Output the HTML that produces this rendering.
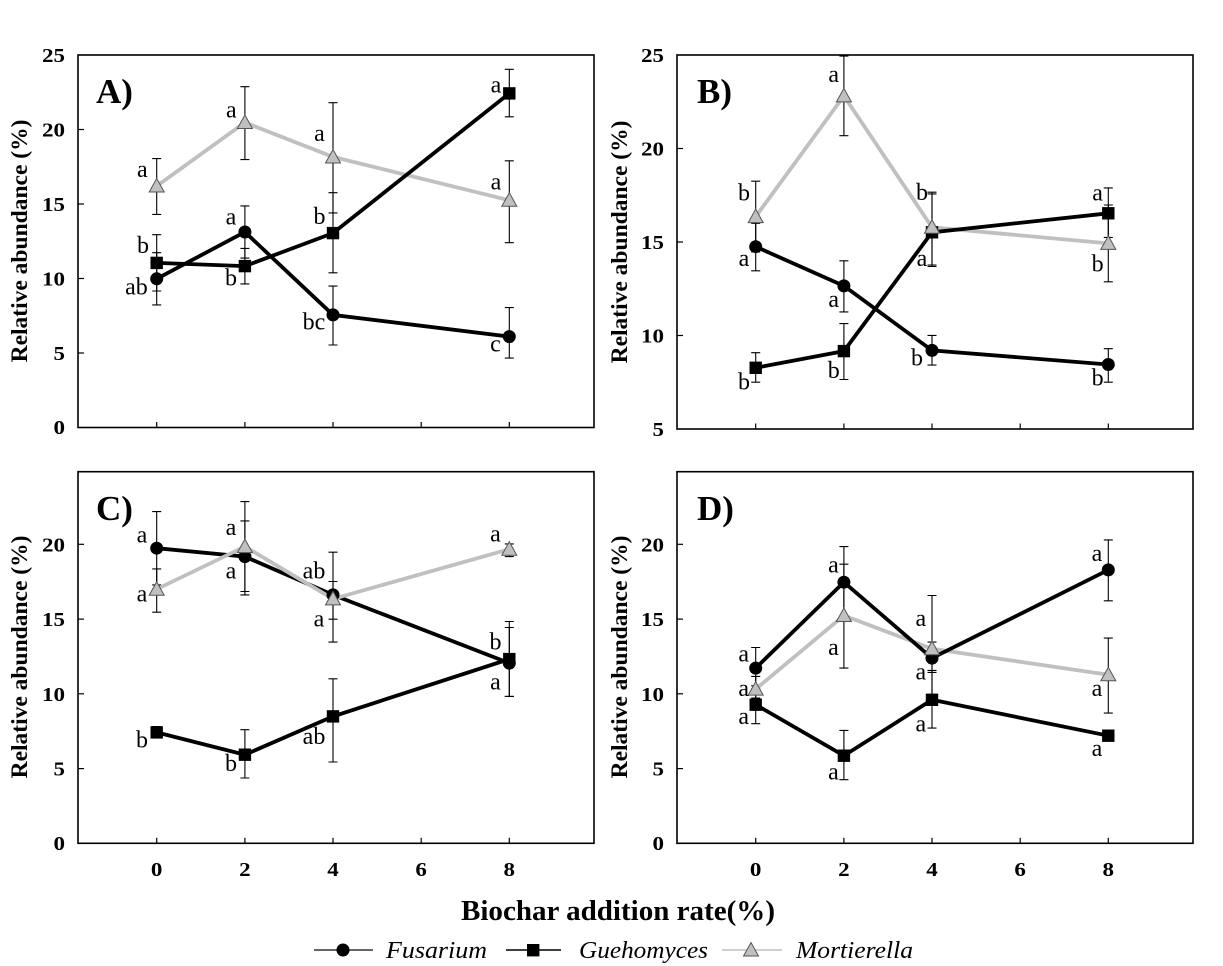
<!DOCTYPE html>
<html>
<head>
<meta charset="utf-8">
<style>
  html,body{margin:0;padding:0;background:#fff;}
  svg{display:block;}
  .tl{font-family:"Liberation Serif",serif;font-weight:bold;font-size:20px;fill:#000;}
  .yt{font-family:"Liberation Serif",serif;font-weight:bold;font-size:23.5px;fill:#000;}
  .pl{font-family:"Liberation Serif",serif;font-weight:bold;font-size:35px;fill:#000;}
  .lt{font-family:"Liberation Serif",serif;font-size:24px;fill:#000;}
  .xt{font-family:"Liberation Serif",serif;font-weight:bold;font-size:28px;fill:#000;}
  .lg{font-family:"Liberation Serif",serif;font-style:italic;font-size:24px;fill:#000;}
</style>
</head>
<body>
<svg width="1223" height="966" viewBox="0 0 1223 966" xmlns="http://www.w3.org/2000/svg">
<defs>
  <g id="tri"><polygon points="0,-8.5 7.5,5 -7.5,5" fill="#c0c0c0" stroke="#555" stroke-width="1"/></g>
</defs>

<!-- ================= PANEL A ================= -->
<g>
  <rect x="78" y="55" width="516" height="372.5" fill="none" stroke="#000" stroke-width="1.6"/>
  <g stroke="#000" stroke-width="1.2">
    <line x1="78" y1="353" x2="84" y2="353"/><line x1="78" y1="278.5" x2="84" y2="278.5"/>
    <line x1="78" y1="204" x2="84" y2="204"/><line x1="78" y1="129.5" x2="84" y2="129.5"/>
    <line x1="156.7" y1="427.5" x2="156.7" y2="422"/><line x1="244.9" y1="427.5" x2="244.9" y2="422"/>
    <line x1="333" y1="427.5" x2="333" y2="422"/><line x1="421.2" y1="427.5" x2="421.2" y2="422"/>
    <line x1="509.3" y1="427.5" x2="509.3" y2="422"/>
  </g>
  <g class="tl" text-anchor="end" lengthAdjust="spacingAndGlyphs">
    <text x="65" y="434" textLength="11.5" lengthAdjust="spacingAndGlyphs">0</text>
    <text x="65" y="360" textLength="11.5" lengthAdjust="spacingAndGlyphs">5</text>
    <text x="65" y="285.5" textLength="23" lengthAdjust="spacingAndGlyphs">10</text>
    <text x="65" y="211" textLength="23" lengthAdjust="spacingAndGlyphs">15</text>
    <text x="65" y="136.5" textLength="23" lengthAdjust="spacingAndGlyphs">20</text>
    <text x="65" y="62" textLength="23" lengthAdjust="spacingAndGlyphs">25</text>
  </g>
  <text class="yt" text-anchor="middle" transform="translate(27,241) rotate(-90)">Relative abundance (%)</text>
  <text class="pl" x="96" y="103">A)</text>
  <g stroke="#000" stroke-width="1.1" fill="none">
    <path d="M156.7,214.4V158.6M152.2,214.4h9M152.2,158.6h9"/>
    <path d="M244.9,159.6V86.7M240.4,159.6h9M240.4,86.7h9"/>
    <path d="M333,212.9V102.7M328.5,212.9h9M328.5,102.7h9"/>
    <path d="M509.3,242.7V160.8M504.8,242.7h9M504.8,160.8h9"/>
    <path d="M156.7,304.9V252.7M152.2,304.9h9M152.2,252.7h9"/>
    <path d="M244.9,258.1V205.9M240.4,258.1h9M240.4,205.9h9"/>
    <path d="M333,345V286.1M328.5,345h9M328.5,286.1h9"/>
    <path d="M509.3,358.1V307.6M504.8,358.1h9M504.8,307.6h9"/>
    <path d="M156.7,291V234.7M152.2,291h9M152.2,234.7h9"/>
    <path d="M244.9,283.9V248.4M240.4,283.9h9M240.4,248.4h9"/>
    <path d="M333,272.8V192.7M328.5,272.8h9M328.5,192.7h9"/>
    <path d="M509.3,116.8V69.3M504.8,116.8h9M504.8,69.3h9"/>
  </g>
  <polyline points="156.7,186.1 244.9,122.5 333,156.9 509.3,200.3" fill="none" stroke="#c0c0c0" stroke-width="3.8"/>
  <polyline points="156.7,262.9 244.9,266.1 333,233.1 509.3,93.4" fill="none" stroke="#000" stroke-width="3.8"/>
  <polyline points="156.7,278.8 244.9,232 333,314.9 509.3,336.6" fill="none" stroke="#000" stroke-width="3.8"/>
  <g fill="#000">
    <circle cx="156.7" cy="278.8" r="6.5"/><circle cx="244.9" cy="232" r="6.5"/>
    <circle cx="333" cy="314.9" r="6.5"/><circle cx="509.3" cy="336.6" r="6.5"/>
    <rect x="150.5" y="256.7" width="12.4" height="12.4"/><rect x="238.7" y="259.9" width="12.4" height="12.4"/>
    <rect x="326.8" y="226.9" width="12.4" height="12.4"/><rect x="503.1" y="87.2" width="12.4" height="12.4"/>
  </g>
  <use href="#tri" x="156.7" y="187"/><use href="#tri" x="244.9" y="123.5"/>
  <use href="#tri" x="333" y="158"/><use href="#tri" x="509.3" y="201.3"/>
  <g class="lt" text-anchor="middle">
    <text x="142.3" y="177">a</text><text x="231.3" y="117.5">a</text>
    <text x="319.5" y="141">a</text><text x="496" y="92.5">a</text>
    <text x="496" y="189.7">a</text><text x="143" y="253">b</text>
    <text x="136.4" y="294.6">ab</text><text x="231" y="224.5">a</text>
    <text x="231" y="285.6">b</text><text x="319.5" y="223.8">b</text>
    <text x="314" y="329.7">bc</text><text x="495.5" y="351.4">c</text>
  </g>
</g>

<!-- ================= PANEL B ================= -->
<g>
  <rect x="677" y="55" width="516" height="374" fill="none" stroke="#000" stroke-width="1.6"/>
  <g stroke="#000" stroke-width="1.2">
    <line x1="677" y1="335.5" x2="683" y2="335.5"/><line x1="677" y1="242" x2="683" y2="242"/>
    <line x1="677" y1="148.5" x2="683" y2="148.5"/>
    <line x1="755.7" y1="429" x2="755.7" y2="423.5"/><line x1="843.9" y1="429" x2="843.9" y2="423.5"/>
    <line x1="932" y1="429" x2="932" y2="423.5"/><line x1="1020.2" y1="429" x2="1020.2" y2="423.5"/>
    <line x1="1108.3" y1="429" x2="1108.3" y2="423.5"/>
  </g>
  <g class="tl" text-anchor="end">
    <text x="664" y="436" textLength="11.5" lengthAdjust="spacingAndGlyphs">5</text>
    <text x="664" y="342.5" textLength="23" lengthAdjust="spacingAndGlyphs">10</text>
    <text x="664" y="249" textLength="23" lengthAdjust="spacingAndGlyphs">15</text>
    <text x="664" y="155.5" textLength="23" lengthAdjust="spacingAndGlyphs">20</text>
    <text x="664" y="62" textLength="23" lengthAdjust="spacingAndGlyphs">25</text>
  </g>
  <text class="yt" text-anchor="middle" transform="translate(627,242) rotate(-90)">Relative abundance (%)</text>
  <text class="pl" x="697" y="103">B)</text>
  <g stroke="#000" stroke-width="1.1" fill="none">
    <path d="M755.7,252V181.2M751.2,252h9M751.2,181.2h9"/>
    <path d="M843.9,135.7V56.1M839.4,135.7h9M839.4,56.1h9"/>
    <path d="M932,266.5V192.2M927.5,266.5h9M927.5,192.2h9"/>
    <path d="M1108.3,281.8V205M1103.8,281.8h9M1103.8,205h9"/>
    <path d="M755.7,270.8V223.3M751.2,270.8h9M751.2,223.3h9"/>
    <path d="M843.9,311.9V260.8M839.4,311.9h9M839.4,260.8h9"/>
    <path d="M932,365.1V335.4M927.5,365.1h9M927.5,335.4h9"/>
    <path d="M1108.3,382.2V348.7M1103.8,382.2h9M1103.8,348.7h9"/>
    <path d="M755.7,382.2V352.7M751.2,382.2h9M751.2,352.7h9"/>
    <path d="M843.9,379.5V323.6M839.4,379.5h9M839.4,323.6h9"/>
    <path d="M932,265.1V193.9M927.5,265.1h9M927.5,193.9h9"/>
    <path d="M1108.3,237.4V187.9M1103.8,237.4h9M1103.8,187.9h9"/>
  </g>
  <polyline points="755.7,216.6 843.9,95.9 932,227.3 1108.3,243.4" fill="none" stroke="#c0c0c0" stroke-width="3.8"/>
  <polyline points="755.7,367.8 843.9,351.1 932,232.3 1108.3,213.3" fill="none" stroke="#000" stroke-width="3.8"/>
  <polyline points="755.7,246.7 843.9,285.9 932,350.4 1108.3,364.5" fill="none" stroke="#000" stroke-width="3.8"/>
  <g fill="#000">
    <circle cx="755.7" cy="246.7" r="6.5"/><circle cx="843.9" cy="285.9" r="6.5"/>
    <circle cx="932" cy="350.4" r="6.5"/><circle cx="1108.3" cy="364.5" r="6.5"/>
    <rect x="749.5" y="361.6" width="12.4" height="12.4"/><rect x="837.7" y="344.9" width="12.4" height="12.4"/>
    <rect x="925.8" y="226.1" width="12.4" height="12.4"/><rect x="1102.1" y="207.1" width="12.4" height="12.4"/>
  </g>
  <use href="#tri" x="755.7" y="217.6"/><use href="#tri" x="843.9" y="96.9"/>
  <use href="#tri" x="932" y="228.3"/><use href="#tri" x="1108.3" y="244.4"/>
  <g class="lt" text-anchor="middle">
    <text x="833.7" y="81.8">a</text><text x="744" y="200.6">b</text>
    <text x="744" y="265.8">a</text><text x="744" y="389.5">b</text>
    <text x="833.7" y="307">a</text><text x="833.7" y="377.8">b</text>
    <text x="922" y="199.9">b</text><text x="922" y="265.8">a</text>
    <text x="917" y="365.5">b</text><text x="1097.6" y="200.6">a</text>
    <text x="1097.6" y="271.5">b</text><text x="1097.6" y="385.5">b</text>
  </g>
</g>

<!-- ================= PANEL C ================= -->
<g>
  <rect x="78" y="471.7" width="516" height="371.6" fill="none" stroke="#000" stroke-width="1.6"/>
  <g stroke="#000" stroke-width="1.2">
    <line x1="78" y1="768.6" x2="84" y2="768.6"/><line x1="78" y1="693.8" x2="84" y2="693.8"/>
    <line x1="78" y1="619.1" x2="84" y2="619.1"/><line x1="78" y1="544.3" x2="84" y2="544.3"/>
    <line x1="156.7" y1="843.3" x2="156.7" y2="837.8"/><line x1="244.9" y1="843.3" x2="244.9" y2="837.8"/>
    <line x1="333" y1="843.3" x2="333" y2="837.8"/><line x1="421.2" y1="843.3" x2="421.2" y2="837.8"/>
    <line x1="509.3" y1="843.3" x2="509.3" y2="837.8"/>
  </g>
  <g class="tl" text-anchor="end">
    <text x="65" y="850" textLength="11.5" lengthAdjust="spacingAndGlyphs">0</text>
    <text x="65" y="775.5" textLength="11.5" lengthAdjust="spacingAndGlyphs">5</text>
    <text x="65" y="700.8" textLength="23" lengthAdjust="spacingAndGlyphs">10</text>
    <text x="65" y="626" textLength="23" lengthAdjust="spacingAndGlyphs">15</text>
    <text x="65" y="551.3" textLength="23" lengthAdjust="spacingAndGlyphs">20</text>
  </g>
  <g class="tl" text-anchor="middle">
    <text x="156.7" y="876" textLength="11.5" lengthAdjust="spacingAndGlyphs">0</text>
    <text x="244.9" y="876" textLength="11.5" lengthAdjust="spacingAndGlyphs">2</text>
    <text x="333" y="876" textLength="11.5" lengthAdjust="spacingAndGlyphs">4</text>
    <text x="421.2" y="876" textLength="11.5" lengthAdjust="spacingAndGlyphs">6</text>
    <text x="509.3" y="876" textLength="11.5" lengthAdjust="spacingAndGlyphs">8</text>
  </g>
  <text class="yt" text-anchor="middle" transform="translate(27,657) rotate(-90)">Relative abundance (%)</text>
  <text class="pl" x="96" y="520">C)</text>
  <g stroke="#000" stroke-width="1.1" fill="none">
    <path d="M156.7,612.2V568.9M152.2,612.2h9M152.2,568.9h9"/>
    <path d="M244.9,591.5V501.6M240.4,591.5h9M240.4,501.6h9"/>
    <path d="M333,642.1V552.2M328.5,642.1h9M328.5,552.2h9"/>
    <path d="M509.3,556.6V543.9M504.8,556.6h9M504.8,543.9h9"/>
    <path d="M156.7,584.9V511.6M152.2,584.9h9M152.2,511.6h9"/>
    <path d="M244.9,594.9V520.9M240.4,594.9h9M240.4,520.9h9"/>
    <path d="M333,619.2V581.5M328.5,619.2h9M328.5,581.5h9"/>
    <path d="M509.3,696.4V627.5M504.8,696.4h9M504.8,627.5h9"/>
    <path d="M156.7,738V726.5M152.2,738h9M152.2,726.5h9"/>
    <path d="M244.9,778V729.7M240.4,778h9M240.4,729.7h9"/>
    <path d="M333,762V678.8M328.5,762h9M328.5,678.8h9"/>
    <path d="M509.3,696.4V621.5M504.8,696.4h9M504.8,621.5h9"/>
  </g>
  <polyline points="156.7,732.4 244.9,754.7 333,716.4 509.3,659.1" fill="none" stroke="#000" stroke-width="3.8"/>
  <polyline points="156.7,548.2 244.9,556.6 333,594.9 509.3,663.1" fill="none" stroke="#000" stroke-width="3.8"/>
  <polyline points="156.7,589.2 244.9,546.6 333,598.9 509.3,549.2" fill="none" stroke="#c0c0c0" stroke-width="3.8"/>
  <g fill="#000">
    <circle cx="156.7" cy="548.2" r="6.5"/><circle cx="244.9" cy="556.6" r="6.5"/>
    <circle cx="333" cy="594.9" r="6.5"/><circle cx="509.3" cy="663.1" r="6.5"/>
    <rect x="150.5" y="726.2" width="12.4" height="12.4"/><rect x="238.7" y="748.5" width="12.4" height="12.4"/>
    <rect x="326.8" y="710.2" width="12.4" height="12.4"/><rect x="503.1" y="652.9" width="12.4" height="12.4"/>
  </g>
  <use href="#tri" x="156.7" y="590.2"/><use href="#tri" x="244.9" y="547.6"/>
  <use href="#tri" x="333" y="599.9"/><use href="#tri" x="509.3" y="550.2"/>
  <g class="lt" text-anchor="middle">
    <text x="142" y="542.7">a</text><text x="142" y="601.7">a</text>
    <text x="142" y="747.7">b</text><text x="231" y="535">a</text>
    <text x="231" y="578.3">a</text><text x="231" y="771">b</text>
    <text x="314" y="578.3">ab</text><text x="319" y="626.7">a</text>
    <text x="314" y="744">ab</text><text x="495.5" y="541.7">a</text>
    <text x="495.5" y="649.3">b</text><text x="495.5" y="689.3">a</text>
  </g>
</g>

<!-- ================= PANEL D ================= -->
<g>
  <rect x="677" y="471.7" width="516" height="371.6" fill="none" stroke="#000" stroke-width="1.6"/>
  <g stroke="#000" stroke-width="1.2">
    <line x1="677" y1="768.6" x2="683" y2="768.6"/><line x1="677" y1="693.8" x2="683" y2="693.8"/>
    <line x1="677" y1="619.1" x2="683" y2="619.1"/><line x1="677" y1="544.3" x2="683" y2="544.3"/>
    <line x1="755.7" y1="843.3" x2="755.7" y2="837.8"/><line x1="843.9" y1="843.3" x2="843.9" y2="837.8"/>
    <line x1="932" y1="843.3" x2="932" y2="837.8"/><line x1="1020.2" y1="843.3" x2="1020.2" y2="837.8"/>
    <line x1="1108.3" y1="843.3" x2="1108.3" y2="837.8"/>
  </g>
  <g class="tl" text-anchor="end">
    <text x="664" y="850" textLength="11.5" lengthAdjust="spacingAndGlyphs">0</text>
    <text x="664" y="775.5" textLength="11.5" lengthAdjust="spacingAndGlyphs">5</text>
    <text x="664" y="700.8" textLength="23" lengthAdjust="spacingAndGlyphs">10</text>
    <text x="664" y="626" textLength="23" lengthAdjust="spacingAndGlyphs">15</text>
    <text x="664" y="551.3" textLength="23" lengthAdjust="spacingAndGlyphs">20</text>
  </g>
  <g class="tl" text-anchor="middle">
    <text x="755.7" y="876" textLength="11.5" lengthAdjust="spacingAndGlyphs">0</text>
    <text x="843.9" y="876" textLength="11.5" lengthAdjust="spacingAndGlyphs">2</text>
    <text x="932" y="876" textLength="11.5" lengthAdjust="spacingAndGlyphs">4</text>
    <text x="1020.2" y="876" textLength="11.5" lengthAdjust="spacingAndGlyphs">6</text>
    <text x="1108.3" y="876" textLength="11.5" lengthAdjust="spacingAndGlyphs">8</text>
  </g>
  <text class="yt" text-anchor="middle" transform="translate(627,657) rotate(-90)">Relative abundance (%)</text>
  <text class="pl" x="697" y="520">D)</text>
  <g stroke="#000" stroke-width="1.1" fill="none">
    <path d="M755.7,698.1V676.4M751.2,698.1h9M751.2,676.4h9"/>
    <path d="M843.9,668.1V564.2M839.4,668.1h9M839.4,564.2h9"/>
    <path d="M932,702.1V595.5M927.5,702.1h9M927.5,595.5h9"/>
    <path d="M1108.3,713.1V638.1M1103.8,713.1h9M1103.8,638.1h9"/>
    <path d="M755.7,688.8V647.5M751.2,688.8h9M751.2,647.5h9"/>
    <path d="M843.9,617.5V546.6M839.4,617.5h9M839.4,546.6h9"/>
    <path d="M932,672.4V642.1M927.5,672.4h9M927.5,642.1h9"/>
    <path d="M1108.3,600.8V539.9M1103.8,600.8h9M1103.8,539.9h9"/>
    <path d="M755.7,723.7V685.8M751.2,723.7h9M751.2,685.8h9"/>
    <path d="M843.9,779.7V730.4M839.4,779.7h9M839.4,730.4h9"/>
    <path d="M932,728.1V670.4M927.5,728.1h9M927.5,670.4h9"/>
  </g>
  <polyline points="755.7,689.1 843.9,615.5 932,648.8 1108.3,674.8" fill="none" stroke="#c0c0c0" stroke-width="3.8"/>
  <polyline points="755.7,704.7 843.9,755.7 932,699.8 1108.3,735.7" fill="none" stroke="#000" stroke-width="3.8"/>
  <polyline points="755.7,668.1 843.9,582.2 932,658.1 1108.3,569.9" fill="none" stroke="#000" stroke-width="3.8"/>
  <g fill="#000">
    <circle cx="755.7" cy="668.1" r="6.5"/><circle cx="843.9" cy="582.2" r="6.5"/>
    <circle cx="932" cy="658.1" r="6.5"/><circle cx="1108.3" cy="569.9" r="6.5"/>
    <rect x="749.5" y="698.5" width="12.4" height="12.4"/><rect x="837.7" y="749.5" width="12.4" height="12.4"/>
    <rect x="925.8" y="693.6" width="12.4" height="12.4"/><rect x="1102.1" y="729.5" width="12.4" height="12.4"/>
  </g>
  <use href="#tri" x="755.7" y="690.1"/><use href="#tri" x="843.9" y="616.5"/>
  <use href="#tri" x="932" y="649.8"/><use href="#tri" x="1108.3" y="675.8"/>
  <g class="lt" text-anchor="middle">
    <text x="743.7" y="661.7">a</text><text x="743.7" y="696">a</text>
    <text x="743.7" y="724">a</text><text x="833.4" y="572.7">a</text>
    <text x="833.4" y="655">a</text><text x="833.4" y="779.3">a</text>
    <text x="920.8" y="626">a</text><text x="920.8" y="679.3">a</text>
    <text x="920.8" y="731.7">a</text><text x="1097" y="561">a</text>
    <text x="1097" y="696">a</text><text x="1097" y="756">a</text>
  </g>
</g>

<!-- ================= X title & legend ================= -->
<text class="xt" x="618" y="920" text-anchor="middle" textLength="314" lengthAdjust="spacingAndGlyphs">Biochar addition rate(%)</text>

<g>
  <line x1="314" y1="950" x2="373" y2="950" stroke="#333" stroke-width="1.4"/>
  <circle cx="343" cy="950" r="6.5" fill="#000"/>
  <text class="lg" x="386" y="958" textLength="101" lengthAdjust="spacingAndGlyphs">Fusarium</text>

  <line x1="506" y1="950" x2="561" y2="950" stroke="#000" stroke-width="1.4"/>
  <rect x="527" y="944" width="12.4" height="12.4" fill="#000"/>
  <text class="lg" x="579" y="958" textLength="129" lengthAdjust="spacingAndGlyphs">Guehomyces</text>

  <line x1="722" y1="950" x2="782" y2="950" stroke="#c0c0c0" stroke-width="1.6"/>
  <use href="#tri" x="751" y="951"/>
  <text class="lg" x="796" y="958" textLength="117" lengthAdjust="spacingAndGlyphs">Mortierella</text>
</g>
</svg>
</body>
</html>
